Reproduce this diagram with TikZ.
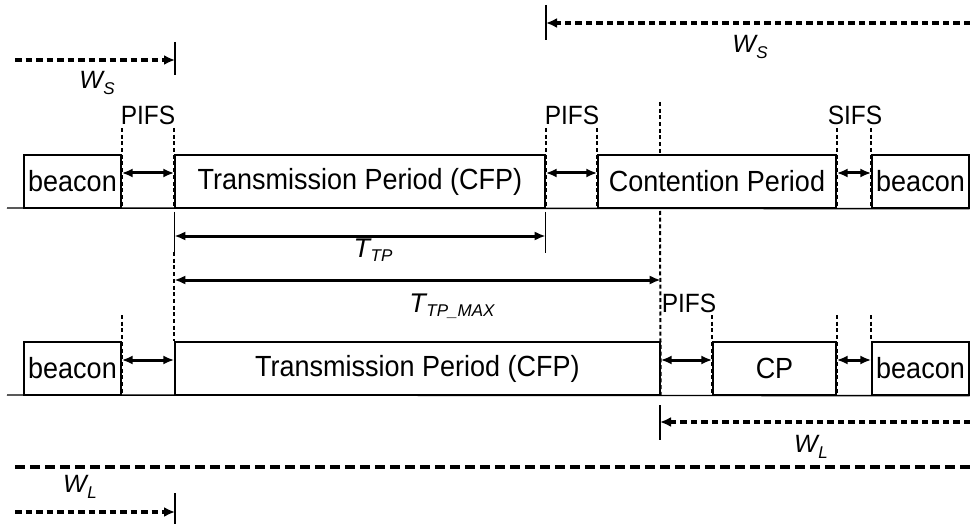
\documentclass[tikz,border=0pt]{standalone}
\usepackage{fontspec}
\setmainfont{Liberation Sans}
\usetikzlibrary{arrows.meta}
\newcommand\symW[1]{{\fontsize{25}{25}\selectfont\itshape W}\kern0.5pt\raisebox{-6pt}{\fontsize{17}{17}\selectfont\itshape #1}}
\newcommand\symT[1]{{\fontsize{27}{27}\selectfont\itshape T}\kern0.5pt\raisebox{-4pt}{\fontsize{17}{17}\selectfont\itshape #1}}
\newcommand\tall[1]{\scalebox{1}[1.08]{#1}}
\begin{document}
\begin{tikzpicture}[x=1pt,y=-1pt,
  box/.style={draw, line width=1.4pt, inner sep=0pt, minimum height=53pt, font=\fontsize{27}{27}\selectfont},
  lab/.style={inner sep=0pt, font=\fontsize{24.5}{24.5}\selectfont},
  sym/.style={inner sep=0pt},
  vdash/.style={line width=2pt, dash pattern=on 4pt off 2.7pt},
  thinl/.style={line width=1.4pt},
  dbl/.style={line width=3pt, {Latex[length=11pt,width=9pt]}-{Latex[length=11pt,width=9pt]}},
  warrow/.style={line width=3.2pt, dash pattern=on 6.5pt off 4pt, -{Latex[length=11pt,width=10pt]}},
  longdash/.style={line width=3.4pt, dash pattern=on 10pt off 5pt}]
\useasboundingbox (0,0) rectangle (970,524);

% ---------- top row ----------
\node[box, minimum width=97pt]  (b1)  at (72.5,181.5) {\tall{beacon}};
\node[box, minimum width=370pt] (tp1) at (360,181.5) {\tall{Transmission Period (CFP)}};
\node[box, minimum width=238pt] (cp1) at (717,181.5) {\tall{Contention Period}};
\node[box, minimum width=97pt]  (b2)  at (920.5,181.5) {\tall{beacon}};
\coordinate (base1) at (7,208);
\draw[thinl] (base1) -- (b2.south east);

\foreach \p in {b1.east, tp1.west, tp1.east, cp1.west, cp1.east, b2.west}
  \draw[vdash] (\p |- 0,128) -- (\p |- 0,208);

\draw[dbl] (b1.east |- 0,173) -- (tp1.west |- 0,173);
\draw[dbl] (tp1.east |- 0,173) -- (cp1.west |- 0,173);
\draw[dbl] (cp1.east |- 0,173) -- (b2.west |- 0,173);

\node[lab] (pifs1) at (148,115) {\tall{PIFS}};
\node[lab] (pifs2) at (572,115) {\tall{PIFS}};
\node[lab] (sifs1) at (855,115) {\tall{SIFS}};

% ---------- lower row ----------
\node[box, minimum width=97pt]  (b3)  at (72.5,368.5) {\tall{beacon}};
\node[box, minimum width=485pt] (tp2) at (417.5,368.5) {\tall{Transmission Period (CFP)}};
\node[box, minimum width=123pt] (cp2) at (774.5,368.5) {\tall{CP}};
\node[box, minimum width=97pt]  (b4)  at (920.5,368.5) {\tall{beacon}};
\coordinate (base2) at (7,395);
\draw[thinl] (base2) -- (b4.south east);

\draw[vdash] (b3.east |- 0,315) -- (b3.south east);
\draw[vdash] (cp2.west |- 0,315) -- (cp2.south west);
\draw[vdash] (cp2.east |- 0,315) -- (cp2.south east);
\draw[vdash] (b4.west |- 0,315) -- (b4.north west);

\draw[dbl] (b3.east |- 0,360) -- (tp2.west |- 0,360);
\draw[dbl] (tp2.east |- 0,360) -- (cp2.west |- 0,360);
\draw[dbl] (cp2.east |- 0,360) -- (b4.west |- 0,360);

\node[lab] (pifs3) at (689,303) {\tall{PIFS}};

% ---------- long guide at end of max CFP ----------
\coordinate (mx1) at (660,102);
\draw[vdash] (mx1) -- (cp1.north -| mx1);
\draw[vdash] (660,211) -- (tp2.south east);

% ---------- T_TP and T_TP_MAX ----------
\draw[thinl] (tp1.west |- 0,212) -- (tp1.west |- 0,252);
\draw[vdash] (tp1.west |- 0,252) -- (tp2.north west);
\draw[thinl] (tp1.east |- 0,212) -- (tp1.east |- 0,253);
\draw[dbl] (tp1.west |- 0,236) -- (tp1.east |- 0,236);
\draw[dbl] (tp2.west |- 0,280) -- (tp2.east |- 0,280);
\node[sym] (ttp) at (373,250) {\symT{TP}};
\node[sym] (ttpmax) at (452,306) {\symT{TP\_MAX}};

% ---------- W_S arrows ----------
\coordinate (ws1s) at (15,60);
\coordinate (ws1e) at (175,60);
\draw[thinl] (175,42) -- (175,75);
\draw[warrow] (ws1s) -- (ws1e);
\node[sym] (ws1) at (97,83) {\symW{S}};

\coordinate (ws2s) at (970,23);
\coordinate (ws2e) at (546,23);
\draw[thinl] (546,5) -- (546,40);
\draw[warrow] (ws2s) -- (ws2e);
\node[sym] (ws2) at (750,47) {\symW{S}};

% ---------- W_L arrows ----------
\coordinate (wl1s) at (970,422);
\coordinate (wl1e) at (660,422);
\draw[thinl] (660,405) -- (660,440);
\draw[warrow] (wl1s) -- (wl1e);
\node[sym] (wl1) at (811,447) {\symW{L}};

\coordinate (ldl) at (15,467);
\coordinate (ldr) at (970,467);
\draw[longdash] (ldl) -- (ldr);

\coordinate (wl2s) at (15,512);
\coordinate (wl2e) at (175,512);
\draw[thinl] (175,493) -- (175,524);
\draw[warrow] (wl2s) -- (wl2e);
\node[sym] (wl2) at (80,487) {\symW{L}};
\end{tikzpicture}
\end{document}
